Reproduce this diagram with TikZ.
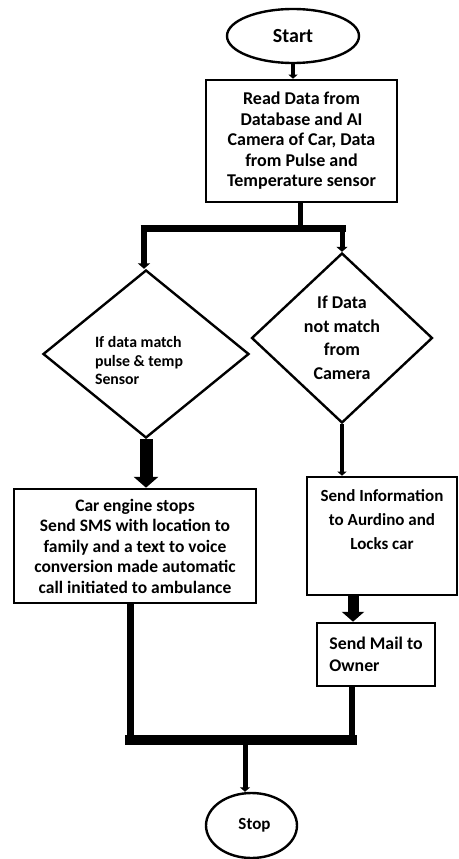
\documentclass[tikz,border=0pt]{standalone}
\usepackage{fontspec}
\setmainfont{Carlito}
\usetikzlibrary{shapes.geometric,arrows.meta}
\begin{document}
\begin{tikzpicture}[x=1pt,y=-1pt,
  every node/.style={text=black},
  box/.style={draw,rectangle,line width=2.6pt,inner sep=0pt,align=center,font=\bfseries\fontsize{18}{20.5}\selectfont},
  term/.style={draw,ellipse,line width=2.4pt,inner sep=0pt,font=\bfseries\fontsize{20}{22}\selectfont},
  dec/.style={draw,diamond,aspect=1,line width=2.4pt,inner sep=0pt,align=center},
  flow/.style={line width=#1},
  tip/.style={-{Triangle[width=#1,length=0.45*#1]}},
]
\useasboundingbox (0,0) rectangle (458,859);

% nodes
\node[term,minimum width=132,minimum height=54] (start) at (293,36) {Start};
\node[box,minimum width=191,minimum height=122] (read) at (301.5,141)
  {Read Data from\\Database and AI\\Camera of Car, Data\\from Pulse and\\Temperature sensor};
\node[dec,minimum width=206,minimum height=168,
  label={[xshift=-7pt,yshift=-7pt,align=left,font=\bfseries\fontsize{15.8}{18.5}\selectfont]center:{If data match\\pulse \& temp\\Sensor}}] (d1) at (146,354) {};
\node[dec,minimum width=181,minimum height=170,font=\bfseries\fontsize{18}{23.5}\selectfont] (d2) at (342,338)
  {If Data\\not match\\from\\Camera};
\node[box,minimum width=242,minimum height=114,font=\bfseries\fontsize{17.5}{20.5}\selectfont] (eng) at (135,546)
  {Car engine stops\\Send SMS with location to\\family and a text to voice\\conversion made automatic\\call initiated to ambulance};
\node[box,minimum width=150,minimum height=118,font=\bfseries\fontsize{17}{24}\selectfont,text depth=32pt] (info) at (382,536)
  {Send Information\\to Aurdino and\\Locks car};
\node[box,minimum width=118,minimum height=63,align=left,font=\bfseries\fontsize{17.8}{22}\selectfont] (mail) at (376,654.5)
  {Send Mail to\\Owner};
\node[term,minimum width=91,minimum height=65,font=\bfseries\fontsize{17}{20}\selectfont] (stop) at (251.5,825.5) {\hspace*{6pt}Stop};

% helper coordinates
\coordinate (split) at (300,228);
\coordinate (sL) at (144,228);
\coordinate (sR) at (342,228);
\coordinate (mx) at (353,0);
\coordinate (jL) at (130,740);
\coordinate (jR) at (352,740);
\coordinate (jM) at (245,740);

% connectors
\draw[flow=4pt,tip=9pt] (start.south) -- (start.south |- read.north);
\draw[flow=5pt] (split |- read.south) -- (split);
\draw[flow=7pt] ([xshift=-3.5pt]sL) -- ([xshift=3.5pt]sR);
\draw[flow=6pt,tip=12pt] (sL) -- (sL |- d1.north);
\draw[flow=5pt,tip=11pt] (sR) -- (sR |- d2.north);
\draw[flow=13pt,tip=24pt] (d1.south) -- (d1.south |- eng.north);
\draw[flow=4pt,tip=9pt] (d2.south) -- (d2.south |- info.north);
\draw[flow=11pt,tip=22pt] (mx |- info.south) -- (mx |- mail.north);
\draw[flow=7pt] (jL |- eng.south) -- (jL);
\draw[flow=6pt] (jR |- mail.south) -- (jR);
\draw[flow=10pt] ([xshift=-5pt]jL) -- ([xshift=5pt]jR);
\draw[flow=5pt,tip=10pt] (jM) -- (jM |- stop.north);
\end{tikzpicture}
\end{document}
